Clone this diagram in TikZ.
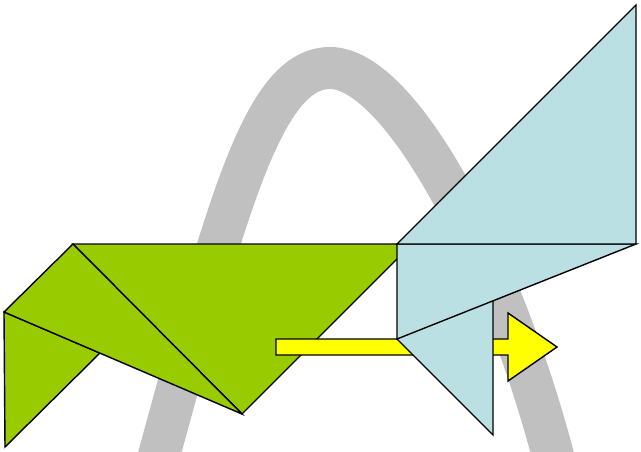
\documentclass[tikz,border=0pt]{standalone}
\usepackage{tikz}
\usetikzlibrary{positioning}
\definecolor{leafgreen}{RGB}{153,204,0}
\definecolor{paleblue}{RGB}{187,224,228}
\definecolor{arcgray}{RGB}{192,192,192}
\definecolor{signyellow}{RGB}{255,255,0}

\begin{document}
\begin{tikzpicture}[x=0.03cm, y=-0.03cm,
    piece/.style={draw=black, line width=1.2pt},
    flightpath/.style={draw=arcgray, line width=1.26cm}
]
\useasboundingbox (0,0) rectangle (641,452);
\clip (0,0) rectangle (641,452);

% corners of the pieces
\coordinate (gA) at (73,244);
\coordinate (gB) at (4,312);
\coordinate (gC) at (5,447);
\coordinate (gD) at (100,353);
\coordinate (gE) at (242,414);
\coordinate (gF) at (412,244);
\coordinate (bF) at (397,244);
\coordinate (bT) at (636,5);
\coordinate (bR) at (636,244);
\coordinate (bS) at (397,339);
\coordinate (bU) at (493,245);
\coordinate (bV) at (493,435);

% grey arc behind everything
\draw[flightpath] (155,470) .. controls (226,211) and (262,68) .. (330,68)
                  .. controls (400,68) and (503,258) .. (557,471);

% green pieces
\filldraw[piece, fill=leafgreen] (gB) -- (gC) -- (gD) -- cycle;
\filldraw[piece, fill=leafgreen] (gA) -- (gF) -- (gE) -- cycle;
\filldraw[piece, fill=leafgreen] (gA) -- (gB) -- (gE) -- cycle;

% yellow arrow
\filldraw[piece, fill=signyellow] (276,339) -- (508,339) -- (508,313) -- (557,347)
    -- (508,381) -- (508,355) -- (276,355) -- cycle;

% blue pieces
\filldraw[piece, fill=paleblue] (bS) -- (bU) -- (bV) -- cycle;
\filldraw[piece, fill=paleblue] (bF) -- (bR) -- (bS) -- cycle;
\filldraw[piece, fill=paleblue] (bF) -- (bT) -- (bR) -- cycle;
\end{tikzpicture}
\end{document}
